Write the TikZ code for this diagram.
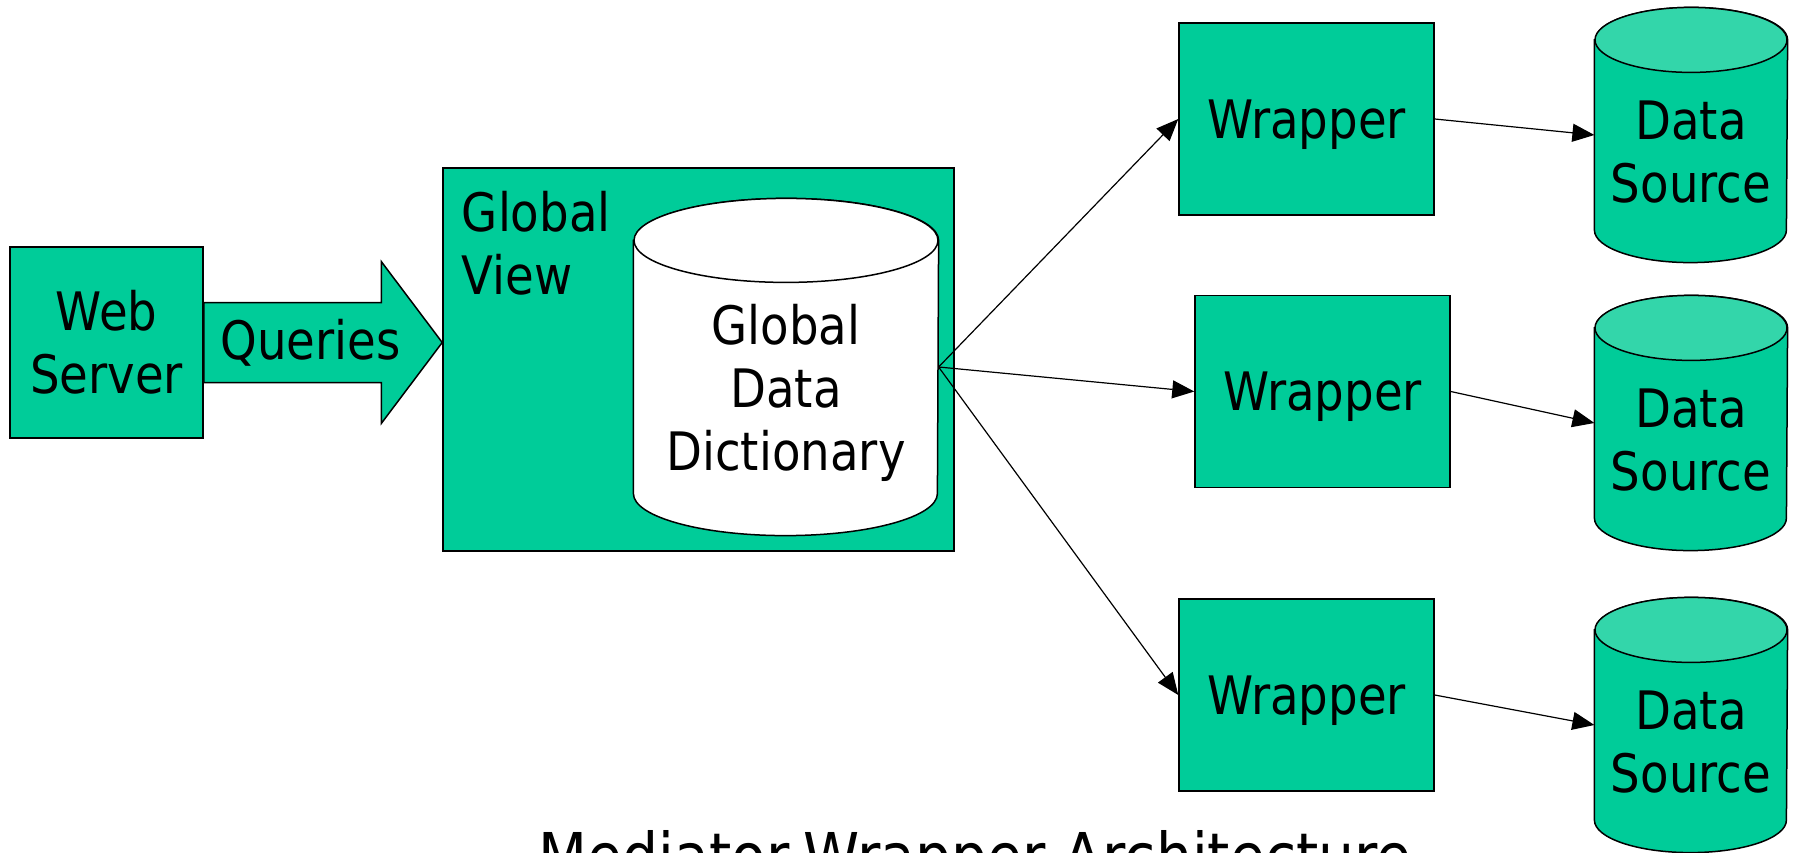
\documentclass[tikz,border=0pt]{standalone}
\usepackage{fontspec}
\setmainfont{DejaVu Sans}[FakeStretch=0.88]
\usetikzlibrary{arrows.meta, positioning}

\definecolor{boxgreen}{RGB}{0,204,153}
\definecolor{topgreen}{RGB}{51,214,170}

% database drum around a node: name, x radius, y radius, body fill, top fill
\newcommand{\dbshape}[5]{%
    \filldraw[block, fill = #4] ([yshift=-#3]#1.north west) -- ([yshift=#3]#1.south west)
        arc[start angle=180, end angle=360, x radius=#2, y radius=#3]
        -- ([yshift=-#3]#1.north east)
        arc[start angle=0, end angle=180, x radius=#2, y radius=#3] -- cycle;
    \filldraw[block, fill = #5] ([yshift=-#3]#1.north) ellipse[x radius=#2, y radius=#3];
}

\begin{document}
\begin{tikzpicture}[
            x = 1pt, y = -1pt, % one unit per pixel, y runs downwards
            > = {Triangle[length=22pt, width=18pt]}, % arrow head style
            line width = 1.2pt,
            align = center,
            font = \fontsize{53}{63}\selectfont
        ]

        \tikzstyle{block}=[
            draw = black,
            line width = 1.5pt,
            fill = boxgreen,
            inner sep = 0pt
        ]
        \tikzstyle{wrapbox}=[block, text depth = 0pt, minimum width = 255pt, minimum height = 192pt]
        \tikzstyle{dbbox}=[inner sep = 0pt, minimum width = 192pt, minimum height = 254pt]

        \useasboundingbox (0,0) rectangle (1795,853);

        \node[block, minimum width = 193pt, minimum height = 191pt] (web) at (106.5,342.5) {Web\\Server};
        \node[block, minimum width = 511pt, minimum height = 383pt] (gv) at (698.5,359.5) {};
        \node[anchor = north west, align = left, inner sep = 0pt] (gvtext) at ([xshift=19pt, yshift=-23.5pt]gv.north west) {Global\\View};

        % global data dictionary
        \node[dbbox, minimum width = 304pt, minimum height = 336pt] (gdd) at (786,367) {};
        \dbshape{gdd}{152pt}{42pt}{white}{white}
        \node (gddtext) at ([yshift=-26pt]gdd.center) {Global\\Data\\Dictionary};

        % queries block arrow
        \coordinate (tip) at (web.east -| gv.west);
        \draw[block] ([yshift=40pt]web.east) -| ([xshift=-61pt, yshift=81pt]tip) -- (tip)
            -- ([xshift=-61pt, yshift=-81pt]tip) |- ([yshift=-40pt]web.east) -- cycle;
        \node (qlabel) at ([xshift=107pt]web.east) {Queries};

        \node[wrapbox] (w1) at (1306.5,119) {Wrapper};
        \node[wrapbox] (w2) at (1322.5,391.5) {Wrapper};
        \node[wrapbox] (w3) at (1306.5,695) {Wrapper};

        % data sources
        \node[dbbox] (ds1) at (1691,135) {};
        \node[dbbox] (ds2) at (1691,423) {};
        \node[dbbox] (ds3) at (1691,725) {};
        \dbshape{ds1}{96pt}{32.5pt}{boxgreen}{topgreen}
        \dbshape{ds2}{96pt}{32.5pt}{boxgreen}{topgreen}
        \dbshape{ds3}{96pt}{32.5pt}{boxgreen}{topgreen}
        \node (ds1text) at ([yshift=-17.5pt]ds1.center) {Data\\Source};
        \node (ds2text) at ([yshift=-17.5pt]ds2.center) {Data\\Source};
        \node (ds3text) at ([yshift=-17.5pt]ds3.center) {Data\\Source};

        \node[anchor = base, font = \fontsize{64.5}{70}\selectfont] (title) at (975,879) {Mediator-Wrapper Architecture};

        \path[->] (gdd.east) edge (w1.west);
        \path[->] (gdd.east) edge (w2.west);
        \path[->] (gdd.east) edge (w3.west);
        \path[->] (w1.east) edge (ds1.west);
        \path[->] (w2.east) edge (ds2.west);
        \path[->] (w3.east) edge (ds3.west);

    \end{tikzpicture}
\end{document}
